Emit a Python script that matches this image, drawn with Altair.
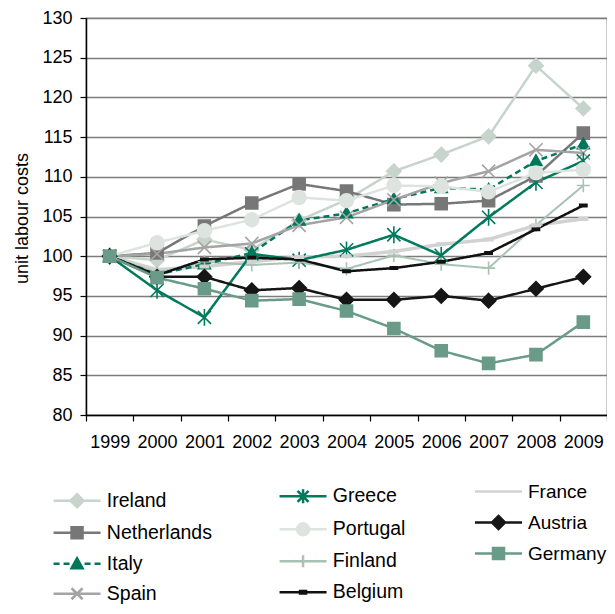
import altair as alt
import pandas as pd

years = [str(y) for y in range(1999, 2010)]
countries = ["Ireland", "Netherlands", "Italy", "Spain", "Greece", "Portugal",
             "Finland", "Belgium", "France", "Austria", "Germany"]

ireland = [100, 99.5, 102.1, 100.8, 104.5, 107.1, 110.7, 112.8, 115.1, 124.0, 118.6]
netherlands = [100, 100.4, 103.8, 106.7, 109.1, 108.2, 106.5, 106.6, 107.0, 110.1, 115.5]
italy = [100, 97.7, 99.0, 100.4, 104.5, 105.4, 107.2, 108.6, 108.4, 112.0, 114.1]
spain = [100, 100.3, 101.1, 101.6, 103.9, 104.9, 107.1, 109.2, 110.7, 113.4, 113.0]
greece = [100, 95.7, 92.3, 100.3, 99.5, 100.8, 102.7, 100.1, 104.9, 109.3, 112.0]
portugal = [100, 101.7, 103.2, 104.6, 107.4, 107.0, 108.9, 108.8, 108.1, 110.5, 110.9]
finland = [100, 97.9, 99.3, 98.9, 99.2, 98.4, 100.1, 99.0, 98.5, 103.9, 108.9]
belgium = [100, 97.6, 99.6, 99.8, 99.6, 98.1, 98.5, 99.3, 100.4, 103.4, 106.4]
france = [100, 98.3, 98.7, 99.3, 99.9, 100.0, 100.6, 101.5, 102.1, 103.9, 104.7]
austria = [100, 97.4, 97.4, 95.7, 96.0, 94.5, 94.5, 95.0, 94.4, 95.9, 97.4]
germany = [100, 97.3, 95.9, 94.4, 94.6, 93.1, 90.9, 88.1, 86.5, 87.6, 91.7]

series = [ireland, netherlands, italy, spain, greece, portugal,
          finland, belgium, france, austria, germany]

colors = ["#c6d4cc", "#777777", "#00775a", "#a4a4a4", "#007a5e", "#dde4e0",
          "#a8c2b4", "#111111", "#d2d2d2", "#161616", "#6a9b88"]

dashes = [[1, 0], [1, 0], [6, 4], [1, 0], [1, 0], [1, 0],
          [1, 0], [1, 0], [1, 0], [1, 0], [1, 0]]

marker_paths = [
    "M0,-1.2L1.2,0L0,1.2L-1.2,0Z",
    "M-1,-1H1V1H-1Z",
    "M0,-1L1,0.75H-1Z",
    "M-1.1,-1.1L1.1,1.1M-1.1,1.1L1.1,-1.1",
    "M-1.1,-1.1L1.1,1.1M-1.1,1.1L1.1,-1.1M0,-1.4V1.4",
    "M1.15,0A1.15,1.15,0,1,1,-1.15,0A1.15,1.15,0,1,1,1.15,0Z",
    "M-1.1,0H1.1M0,-1.1V1.1",
    "M-0.6,-0.2H0.6V0.2H-0.6Z",
    "M-0.7,-0.2H0.7V0.2H-0.7Z",
    "M0,-1.2L1.2,0L0,1.2L-1.2,0Z",
    "M-1,-1H1V1H-1Z",
]

legend_paths = [
    "M-4.7,0H4.7M0,-1.3L1.3,0L0,1.3L-1.3,0Z",
    "M-4.7,0H4.7M-1.1,-1.1H1.1V1.1H-1.1Z",
    "M-4.7,0H-3.5M-2.7,0H-1.5M1.5,0H2.7M3.5,0H4.7M0,-1.1L1.1,0.9H-1.1Z",
    "M-4.7,0H4.7M-1.1,-1.1L1.1,1.1M-1.1,1.1L1.1,-1.1",
    "M-4.7,0H4.7M-1.1,-1.1L1.1,1.1M-1.1,1.1L1.1,-1.1M0,-1.4V1.4",
    "M-4.7,0H4.7M1.2,0A1.2,1.2,0,1,1,-1.2,0A1.2,1.2,0,1,1,1.2,0Z",
    "M-4.7,0H4.7M0,-1.2V1.2",
    "M-4.7,0H4.7M-0.6,-0.25H0.6V0.25H-0.6Z",
    "M-4.7,0H4.7",
    "M-4.7,0H4.7M0,-1.3L1.3,0L0,1.3L-1.3,0Z",
    "M-4.7,0H4.7M-1.1,-1.1H1.1V1.1H-1.1Z",
]

groups = [
    (["Ireland", "Netherlands", "Italy", "Spain"], -18.7, 473.0, 19.5),
    (["Greece", "Portugal", "Finland", "Belgium"], 207.3, 468.6, 19.5),
    (["France", "Austria", "Germany"], 403, 464.0, 19),
]

rows = []
for c, vals in zip(countries, series):
    for y, v in zip(years, vals):
        rows.append({"country": c, "year": y, "value": v})
df = pd.DataFrame(rows)

FONT = "Liberation Sans"

X = alt.X("year:O", scale=alt.Scale(type="band", paddingInner=0, paddingOuter=0),
          bandPosition=0.5,
          axis=alt.Axis(title=None, tickBand="extent", grid=False, tickSize=6,
                        labelAngle=0, labelFontSize=18, labelFont=FONT,
                        labelColor="black", labelPadding=12, domainColor="black",
                        domainWidth=1.5, tickColor="black", tickWidth=1.2))
Y = alt.Y("value:Q", scale=alt.Scale(domain=[80, 130], nice=False, zero=False),
          axis=alt.Axis(values=list(range(80, 131, 5)), grid=True, gridColor="#7c7c7c",
                        gridWidth=1.3, tickSize=6, tickColor="black", tickWidth=1.2,
                        domainColor="black", domainWidth=1.5,
                        labelFontSize=18, labelFont=FONT, labelColor="black",
                        labelPadding=8, title="unit labour costs", titleFontSize=18,
                        titleFont=FONT, titleFontWeight="normal", titleColor="black",
                        titleX=-64, titleY=200, titleAngle=270,
                        titleAlign="center", titleBaseline="middle"))

stroke_scale = alt.Scale(domain=countries, range=colors)


def line_layer(names, width):
    return alt.Chart(df).transform_filter(
        alt.FieldOneOfPredicate(field="country", oneOf=names)
    ).mark_line(strokeWidth=width).encode(
        x=X, y=Y,
        stroke=alt.Stroke("country:N", scale=stroke_scale, legend=None),
        strokeDash=alt.StrokeDash("country:N",
                                  scale=alt.Scale(domain=countries, range=dashes),
                                  legend=None),
        order=alt.Order("year:O"),
    )


main_names = [c for c in countries if c not in ("Finland", "France")]
lines_main = line_layer(main_names, 2.5)
lines_fin = line_layer(["Finland"], 2)
lines_fra = line_layer(["France"], 3.5)

points = alt.Chart(df).mark_point(filled=True, size=144, strokeWidth=1.6, opacity=1).encode(
    x=X, y=Y,
    fill=alt.Fill("country:N", scale=alt.Scale(domain=countries, range=colors), legend=None),
    stroke=alt.Stroke("country:N", scale=stroke_scale, legend=None),
    shape=alt.Shape("country:N", scale=alt.Scale(domain=countries, range=marker_paths),
                    legend=None),
)

legend_layers = []
for names, lx, ly, fs in groups:
    idx = [countries.index(n) for n in names]
    gcol = [colors[i] for i in idx]
    gpath = [legend_paths[i] for i in idx]
    leg = alt.Legend(title=None, orient="none", legendX=lx, legendY=ly,
                     direction="vertical", symbolSize=100, symbolStrokeWidth=2.5,
                     symbolOpacity=1,
                     labelFontSize=fs, labelFont=FONT, labelColor="black",
                     labelOffset=20, rowPadding=9, labelLimit=300)
    layer = alt.Chart(df).transform_filter("false").mark_point(
        filled=True, opacity=1
    ).encode(
        x=X, y=Y,
        fill=alt.Fill("country:N", scale=alt.Scale(domain=names, range=gcol), legend=leg),
        stroke=alt.Stroke("country:N", scale=alt.Scale(domain=names, range=gcol), legend=leg),
        shape=alt.Shape("country:N", scale=alt.Scale(domain=names, range=gpath), legend=leg),
    )
    legend_layers.append(layer)

chart = alt.layer(
    lines_fra, lines_fin, lines_main, points, *legend_layers
).resolve_scale(
    fill="independent", stroke="independent", shape="independent", strokeDash="independent"
).properties(
    width=521, height=397,
    padding={"left": 78, "top": 10, "right": 0, "bottom": 191},
    autosize=alt.AutoSizeParams(type="none"),
).configure_view(stroke="#555555", strokeWidth=1.2)

chart.save("out.html", embed_options={"renderer": "svg", "actions": False})
